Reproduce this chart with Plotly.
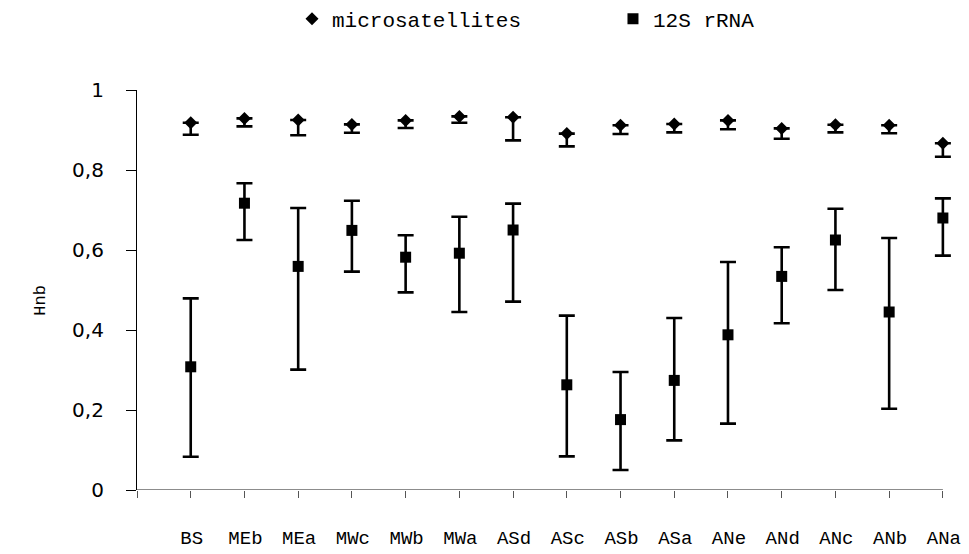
import numpy as np
import plotly.graph_objects as go

categories = ["BS", "MEb", "MEa", "MWc", "MWb", "MWa", "ASd", "ASc", "ASb", "ASa",
              "ANe", "ANd", "ANc", "ANb", "ANa"]

micro_val = [0.918, 0.929, 0.925, 0.914, 0.924, 0.934, 0.932, 0.891, 0.912, 0.915,
             0.924, 0.904, 0.913, 0.912, 0.867]
micro_low = [0.888, 0.909, 0.887, 0.893, 0.905, 0.918, 0.874, 0.859, 0.890, 0.894,
             0.902, 0.878, 0.894, 0.892, 0.833]

rrna_val = [0.308, 0.717, 0.559, 0.649, 0.582, 0.592, 0.650, 0.263, 0.176, 0.274,
            0.388, 0.534, 0.625, 0.445, 0.680]
rrna_high = [0.479, 0.767, 0.705, 0.723, 0.637, 0.683, 0.716, 0.436, 0.295, 0.430,
             0.570, 0.607, 0.703, 0.630, 0.729]
rrna_low = [0.083, 0.625, 0.301, 0.546, 0.494, 0.445, 0.471, 0.084, 0.050, 0.124,
            0.166, 0.417, 0.500, 0.203, 0.586]

y_ticks = [0, 0.2, 0.4, 0.6, 0.8, 1]
y_ticktext = ["0", "0,2", "0,4", "0,6", "0,8", "1"]

x = np.arange(len(categories))
last = len(categories) - 1
mv = np.array(micro_val)
rv = np.array(rrna_val)

# plot area geometry (pixels)
W, H = 969, 554
L, T = 137, 90
step = (943 - 137) / 15.0
x_hi = last + 0.3
R = W - (L + step * (x_hi + 1))
B = H - 490.5

fig = go.Figure()
fig.add_trace(go.Scatter(
    x=x, y=mv, mode="markers", name="microsatellites",
    marker=dict(symbol="diamond", size=10, color="black"),
    error_y=dict(type="data", symmetric=False,
                 array=np.zeros(len(x)), arrayminus=mv - np.array(micro_low),
                 color="black", thickness=2.6, width=8),
    cliponaxis=False,
))
fig.add_trace(go.Scatter(
    x=x, y=rv, mode="markers", name="12S rRNA",
    marker=dict(symbol="square", size=11, color="black"),
    error_y=dict(type="data", symmetric=False,
                 array=np.array(rrna_high) - rv, arrayminus=rv - np.array(rrna_low),
                 color="black", thickness=2.6, width=8),
    cliponaxis=False,
))

mono = "Liberation Mono"
fig.update_layout(
    width=W, height=H,
    margin=dict(l=L, r=R, t=T, b=B, autoexpand=False),
    paper_bgcolor="white", plot_bgcolor="white",
    showlegend=True,
    legend=dict(orientation="h", x=(292 - L) / (W - L - R), xanchor="left",
                y=(490.5 - 19) / (H - T - B), yanchor="middle",
                font=dict(family=mono, size=21, color="black"),
                entrywidth=276, itemwidth=30, bgcolor="rgba(0,0,0,0)"),
    xaxis=dict(range=[-1, x_hi], tickmode="array",
               tickvals=[-1] + list(x), ticktext=[""] + categories,
               ticks="outside", ticklen=7, tickcolor="#555", tickwidth=1,
               showline=False, showgrid=False, zeroline=False, automargin=False,
               ticklabelstandoff=23, ticklabelshift=1,
               tickfont=dict(family=mono, size=19, color="black")),
    yaxis=dict(range=[0, 1], tickmode="array", tickvals=y_ticks, ticktext=y_ticktext,
               ticks="outside", ticklen=10, tickcolor="black", tickwidth=1,
               showline=True, linecolor="black", linewidth=1.2,
               showgrid=False, zeroline=False, automargin=False,
               ticklabelstandoff=18,
               tickfont=dict(family="DejaVu Sans", size=20, color="black")),
    shapes=[dict(type="line", xref="x", yref="y", x0=-1, x1=last, y0=0, y1=0,
                 line=dict(color="#666", width=1.5), layer="below")],
    annotations=[dict(text="Hnb", xref="paper", yref="paper",
                      x=(41 - L) / (W - L - R), y=(490.5 - 301) / (H - T - B),
                      xanchor="center", yanchor="middle", textangle=-90, showarrow=False,
                      font=dict(family=mono, size=17, color="black"))],
)

fig.write_html("out.html")
